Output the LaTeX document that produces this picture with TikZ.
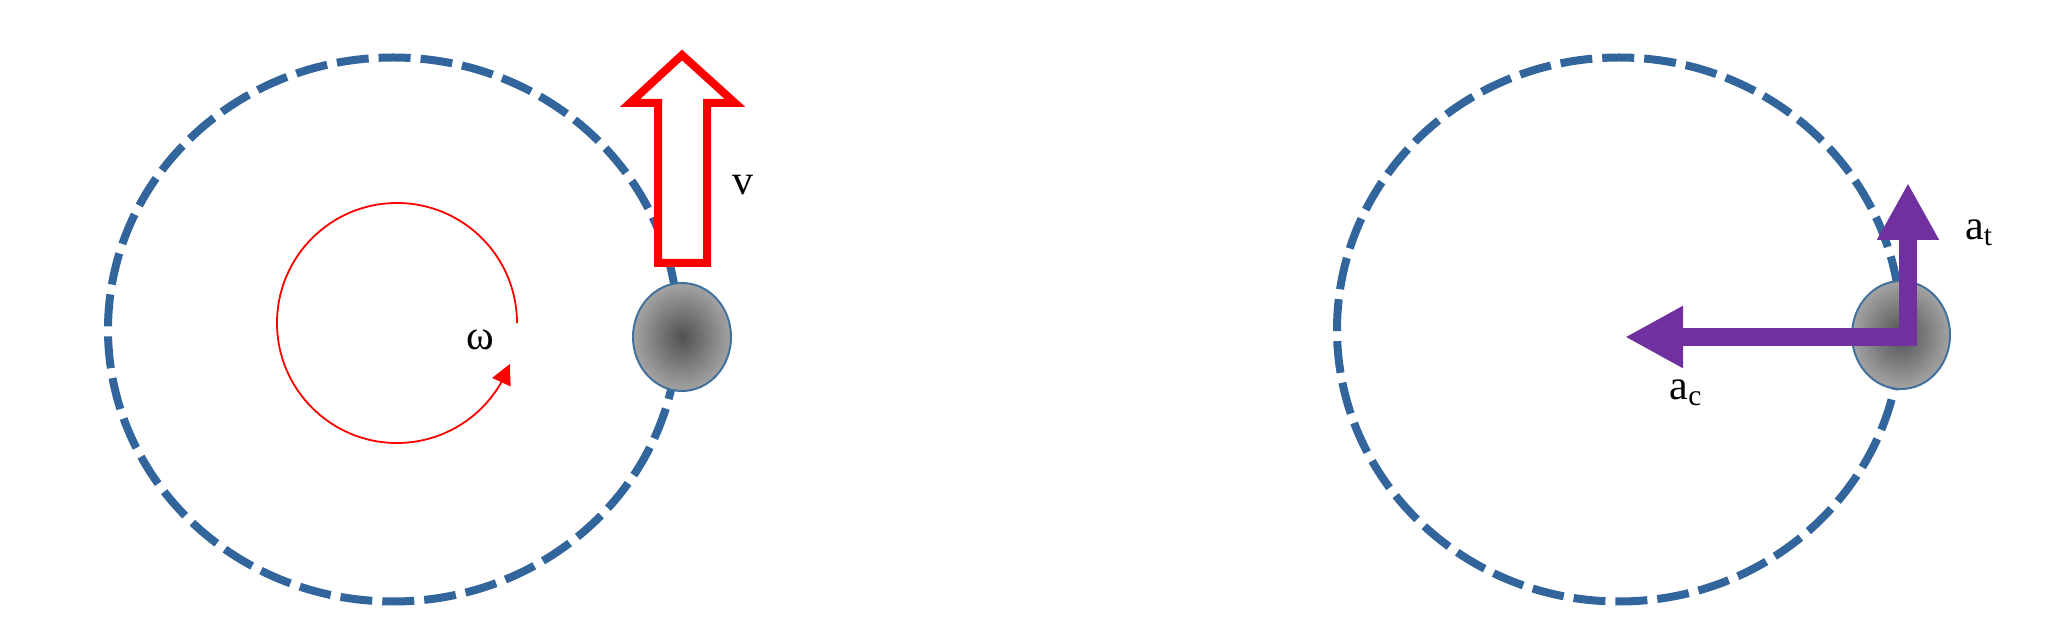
\documentclass[tikz,border=0pt]{standalone}
\usepackage{fontspec}
\setmainfont{Liberation Serif}
\usetikzlibrary{arrows.meta,bending,shapes.geometric}

\definecolor{orbitblue}{HTML}{31659B}
\definecolor{ballblue}{HTML}{41719C}
\definecolor{accpurple}{HTML}{7030A0}

\begin{document}
\begin{tikzpicture}[x=0.5pt,y=0.5pt,
	every node/.style={font=\fontsize{21}{25}\selectfont},
	orbit/.style={draw=orbitblue,line width=4pt,dash pattern=on 16pt off 5pt},
	ball/.style={ellipse,draw=ballblue,line width=1pt,inner sep=0pt,
		minimum width=49pt,minimum height=54pt,inner color=black!68,outer color=black!36},
	spin/.style={draw=red,line width=0.9pt,-{Triangle[length=10pt,width=10pt,flex]}},
	velo/.style={draw=red,line width=4pt,fill=white,line join=miter},
	accel/.style={draw=accpurple,line width=9pt,
		{Triangle[length=29pt,width=29pt]}-{Triangle[length=28.5pt,width=29pt]}}
	]
\useasboundingbox (0,0) rectangle (2046,627);

% left: angular velocity
\coordinate (orbitL) at (393,297.5);
\coordinate (spinc) at (397,304);
\draw[orbit] (orbitL) ellipse [x radius=142.5pt,y radius=136pt];
\draw[spin] (spinc) ++(0:60pt) arc [start angle=0,end angle=340,radius=60pt];
\node (omega) at (480,287) {ω};
\draw[velo] (658,364) -- (707,364) -- (707,524) -- (735,524) -- (682,572)
	-- (630,524) -- (658,524) -- cycle;
\node (v) at (743,442) {v};
\node[ball] (ballL) at (682,290) {};

% right: accelerations
\coordinate (orbitR) at (1619,297.5);
\draw[orbit] (orbitR) ellipse [x radius=141pt,y radius=136pt];
\node[ball] (ballR) at (1901,292) {};
\coordinate (corner) at (1908,290);
\coordinate (tipC) at (1625,290);
\coordinate (tipT) at (1908,444);
\draw[accel] (tipC) -- (corner) -- (tipT);
\node (at) at (1979,394) {a\textsubscript{t}};
\node (ac) at (1686,234) {a\textsubscript{c}};

\end{tikzpicture}
\end{document}
